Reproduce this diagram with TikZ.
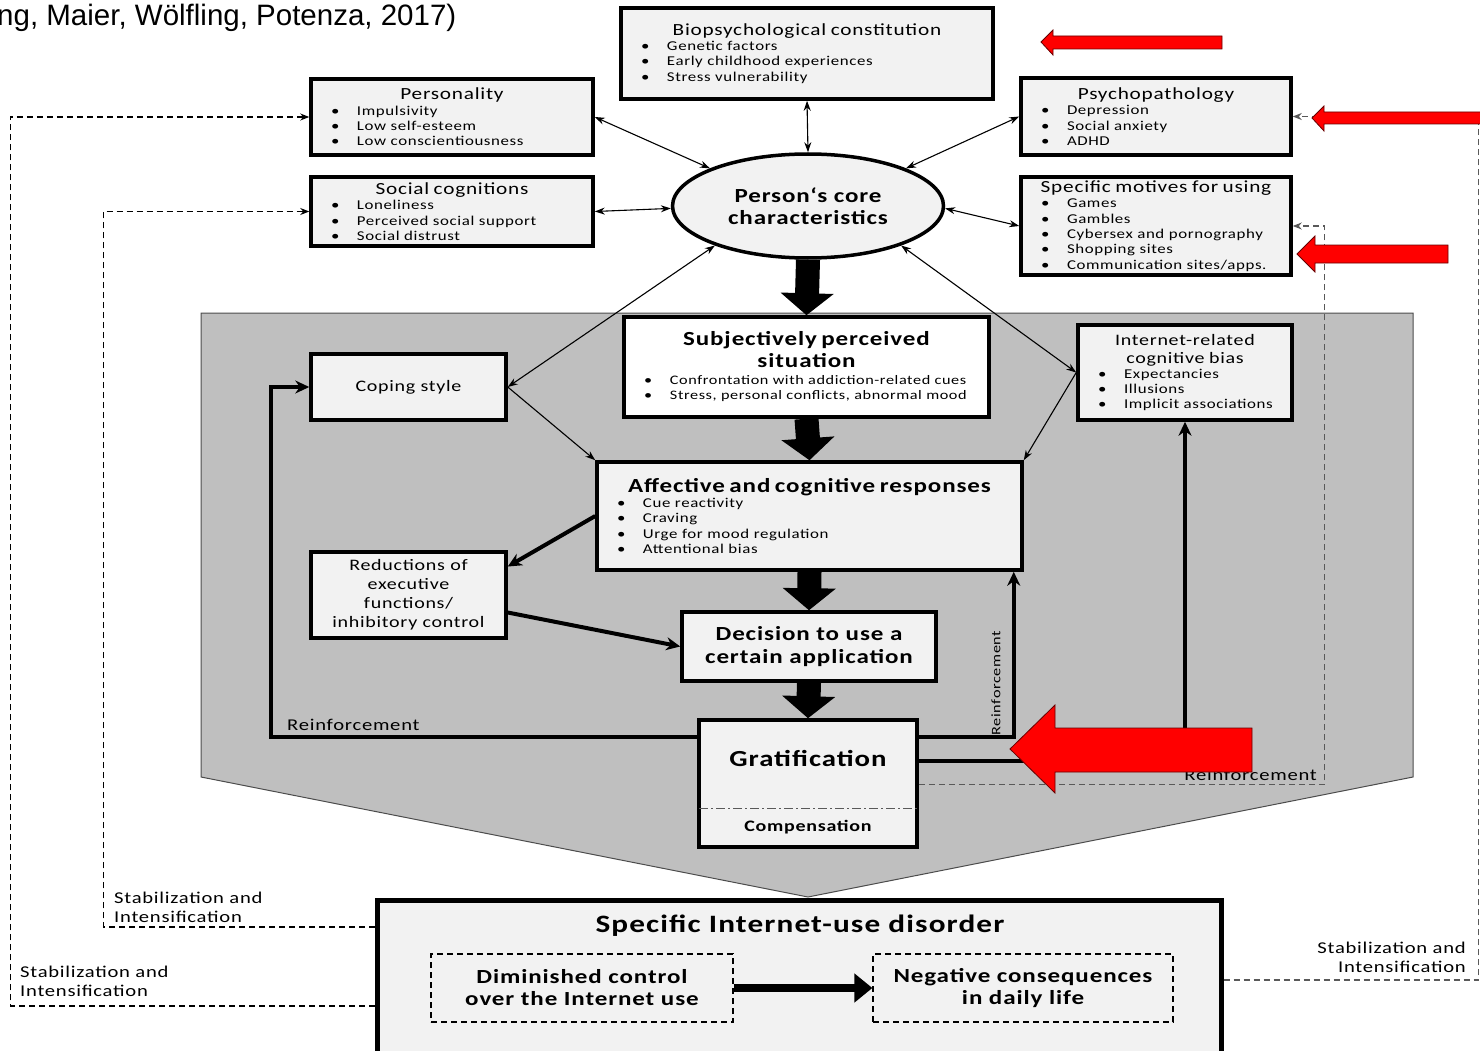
\documentclass[tikz,border=0pt]{standalone}
\usepackage{fontspec}
\setmainfont{Carlito}[FakeStretch=1.25,LetterSpace=4.5]
\newfontfamily\citefont{Liberation Sans}
\usetikzlibrary{arrows.meta, shapes.geometric, calc}

\definecolor{boxgray}{HTML}{F2F2F2}
\definecolor{areagray}{HTML}{BFBFBF}
\definecolor{markred}{HTML}{FF0000}

\newcommand{\bulletfont}{\fontsize{13.5}{15.3}\selectfont}
\newcommand{\labelfont}{\fontsize{16.5}{19}\selectfont}
\newcommand{\boxhead}[1]{{\centering\fontsize{17}{19}\selectfont #1\par}}
\newcommand{\bitem}[1]{\par\noindent\hspace*{20pt}\makebox[26pt][l]{\textbullet}#1}

\tikzstyle{infobox} = [draw, line width=3.5pt, fill=boxgray, inner xsep=0pt, inner ysep=0pt]
\tikzstyle{subbox} = [draw, dash pattern=on 6pt off 4pt, line width=1.2pt, fill=boxgray, inner sep=0pt, align=center]
\tikzstyle{link} = [line width=1.1pt, <->, >={Stealth[length=10pt,width=7pt]}]
\tikzstyle{flow} = [line width=1.1pt, ->, >={Stealth[length=10pt,width=7pt]}]
\tikzstyle{boldflow} = [line width=4pt, ->, >={Stealth[length=14pt,width=13pt]}]
\tikzstyle{blockarrow} = [line width=24pt, -{Triangle[length=22pt,width=52pt]}]
\tikzstyle{feedback} = [line width=1.2pt, dash pattern=on 6pt off 4pt, ->, >={Stealth[length=9pt,width=7pt]}]
\tikzstyle{redmark} = [fill=markred, draw=red!40!black, line width=0.8pt]

\begin{document}
\begin{tikzpicture}[x=1pt, y=-1pt]

        \useasboundingbox (0,0) rectangle (1480,1051);
        \clip (0,0) rectangle (1480,1051);

        % Source line
        \node at (-3,26) [anchor=base west, inner sep=0pt, font=\citefont\fontsize{29.5}{32}\selectfont] (cite) {ng, Maier, Wölfling, Potenza, 2017)};

        % Grey process area
        \filldraw[fill=areagray, draw=black!70, line width=1pt] (201,313) -- (1413,313) -- (1413,777) -- (808,897) -- (201,777) -- cycle;

        % Core characteristics and predisposing variables
        \node at (808,206) [ellipse, draw, line width=3.5pt, fill=boxgray, minimum width=271pt, minimum height=104pt, inner sep=0pt, align=center, font=\bfseries\fontsize{20}{22}\selectfont] (core) {Person‘s core\\characteristics};
        \node at (807,53.5) [infobox, text width=372pt, minimum height=91pt, font=\bulletfont] (bio) {\boxhead{Biopsychological constitution}\bitem{Genetic factors}\bitem{Early childhood experiences}\bitem{Stress vulnerability}};
        \node at (452,117) [infobox, text width=282pt, minimum height=76pt, font=\bulletfont] (pers) {\boxhead{Personality}\bitem{Impulsivity}\bitem{Low self-esteem}\bitem{Low conscientiousness}};
        \node at (452,211.5) [infobox, text width=282pt, minimum height=69pt, font=\bulletfont] (soc) {\boxhead{Social cognitions}\bitem{Loneliness}\bitem{Perceived social support}\bitem{Social distrust}};
        \node at (1156,116.5) [infobox, text width=270pt, minimum height=77pt, font=\bulletfont] (psy) {\boxhead{Psychopathology}\bitem{Depression}\bitem{Social anxiety}\bitem{ADHD}};
        \node at (1156,226) [infobox, text width=270pt, minimum height=98pt, font=\bulletfont] (mot) {\boxhead{Specific motives for using}\bitem{Games}\bitem{Gambles}\bitem{Cybersex and pornography}\bitem{Shopping sites}\bitem{Communication sites/apps.}};

        % Process boxes
        \node at (806.5,367) [infobox, fill=white, text width=365pt, minimum height=100pt, font=\fontsize{13}{15}\selectfont] (subj) {{\centering\bfseries\fontsize{20}{22}\selectfont Subjectively perceived\\situation\par}\vspace{2pt}\bitem{Confrontation with addiction-related cues}\bitem{Stress, personal conflicts, abnormal mood}};
        \node at (408.5,387) [infobox, minimum width=195pt, minimum height=66pt, align=center, font=\fontsize{16}{19}\selectfont] (cope) {Coping style};
        \node at (408.5,595) [infobox, minimum width=195pt, minimum height=86pt, align=center, font=\fontsize{16}{19}\selectfont] (red) {Reductions of\\executive\\functions/\\inhibitory control};
        \node at (1185,372.5) [infobox, text width=214pt, minimum height=95pt, font=\bulletfont] (bias) {{\centering\fontsize{16}{18}\selectfont Internet-related\\cognitive bias\par}\bitem{Expectancies}\bitem{Illusions}\bitem{Implicit associations}};
        \node at (809.5,516) [infobox, text width=425pt, minimum height=108pt, font=\bulletfont] (aff) {{\centering\bfseries\fontsize{20}{22}\selectfont Affective and cognitive responses\par}\bitem{Cue reactivity}\bitem{Craving}\bitem{Urge for mood regulation}\bitem{Attentional bias}};
        \node at (809,646.5) [infobox, minimum width=254pt, minimum height=69pt, align=center, font=\bfseries\fontsize{20}{23}\selectfont] (dec) {Decision to use a\\certain application};
        \node at (808,783.5) [infobox, minimum width=218pt, minimum height=127pt] (grat) {};
        \node at (808,758) [font=\bfseries\fontsize{23}{26}\selectfont] (grattitle) {Gratification};
        \draw[gray!70!black, line width=1.2pt, dash pattern=on 9pt off 3pt on 2pt off 3pt] ($(grat.north west)+(2,90)$) -- ($(grat.north east)+(-2,90)$);
        \node at (808,827) [font=\bfseries\fontsize{16}{18}\selectfont] (comp) {Compensation};

        % Disorder
        \node at (799,980) [infobox, line width=5pt, minimum width=844pt, minimum height=160pt] (dis) {};
        \node at (800,926) [font=\bfseries\fontsize{25}{28}\selectfont] (distitle) {Specific Internet-use disorder};
        \node at (582,988) [subbox, minimum width=302pt, minimum height=68pt, font=\bfseries\fontsize{20}{22}\selectfont] (dim) {Diminished control\\over the Internet use};
        \node at (1023,988) [subbox, minimum width=300pt, minimum height=68pt, font=\bfseries\fontsize{20}{22}\selectfont] (neg) {Negative consequences\\in daily life};
        \draw[line width=8pt, -{Triangle[length=18pt,width=28pt]}] (dim.east) -- (neg.west);

        % Links to the core
        \draw[link] (bio.south) -- (core.north);
        \draw[link] (pers.east) -- (core.159);
        \draw[link] (soc.east) -- (core.181);
        \draw[link] (psy.west) -- (core.21);
        \draw[link] (mot.west) -- (core.359);
        \draw[link] (core.203) -- (cope.east);
        \draw[link] (core.337) -- (bias.west);
        \draw[flow] (cope.east) -- (aff.north west);
        \draw[flow] (bias.west) -- (aff.north east);

        % Main path
        \draw[blockarrow] (core.south) -- (subj.north);
        \draw[blockarrow] (subj.south) -- (aff.north);
        \draw[blockarrow] (aff.south) -- (dec.north);
        \draw[blockarrow] (dec.south) -- (grat.north);

        % Executive control
        \draw[boldflow] (aff.west) -- (red.16);
        \draw[boldflow] (red.-10) -- (dec.west);

        % Reinforcement
        \draw[boldflow] ([yshift=-19pt]grat.north west) -| ($(cope.west)+(-38,0)$) -- (cope.west);
        \draw[boldflow] ([yshift=-19pt]grat.north east) -| ($(aff.south east)+(-10,0)$);
        \draw[boldflow] ([yshift=-43pt]grat.north east) -| (bias.south);
        \node at (286,725) [anchor=west, inner sep=1pt, font=\labelfont] (reinfA) {Reinforcement};
        \node at (996,683) [rotate=90, inner sep=1pt, font=\fontsize{13}{15}\selectfont] (reinfB) {Reinforcement};
        \node at (1318,775) [anchor=east, inner sep=1pt, font=\labelfont] (reinfC) {Reinforcement};
        \draw[feedback, draw=gray!70!black] ([yshift=-66pt]grat.north east) -| ($(mot.east)+(32,0)$) -- (mot.east);

        % Stabilization and intensification
        \draw[feedback] ([yshift=-26pt]dis.west) -| ($(pers.west)+(-299,0)$) -- (pers.west);
        \draw[feedback] ([yshift=53pt]dis.west) -| ($(soc.west)+(-206,0)$) -- (soc.west);
        \draw[feedback, draw=gray!70!black] (dis.east) -| ($(psy.east)+(186,0)$) -- (psy.east);
        \node at (113,907) [anchor=west, align=left, inner sep=1pt, font=\labelfont] (stabA) {Stabilization and\\Intensification};
        \node at (19,981) [anchor=west, align=left, inner sep=1pt, font=\labelfont] (stabB) {Stabilization and\\Intensification};
        \node at (1467,957) [anchor=east, align=right, inner sep=1pt, font=\labelfont] (stabC) {Stabilization and\\Intensification};

        % Red markers
        \filldraw[redmark] (1041,42) -- (1053,30) -- (1053,36) -- (1222,36) -- (1222,49) -- (1053,49) -- (1053,55) -- cycle;
        \filldraw[redmark] (1312,118) -- (1324,106) -- (1324,112) -- (1490,112) -- (1490,124) -- (1324,124) -- (1324,131) -- cycle;
        \filldraw[redmark] (1297,254) -- (1315,236) -- (1315,245) -- (1448,245) -- (1448,263) -- (1315,263) -- (1315,272) -- cycle;
        \filldraw[redmark] (1010,749) -- (1055,705) -- (1055,728) -- (1252,728) -- (1252,772) -- (1055,772) -- (1055,793) -- cycle;

\end{tikzpicture}
\end{document}
